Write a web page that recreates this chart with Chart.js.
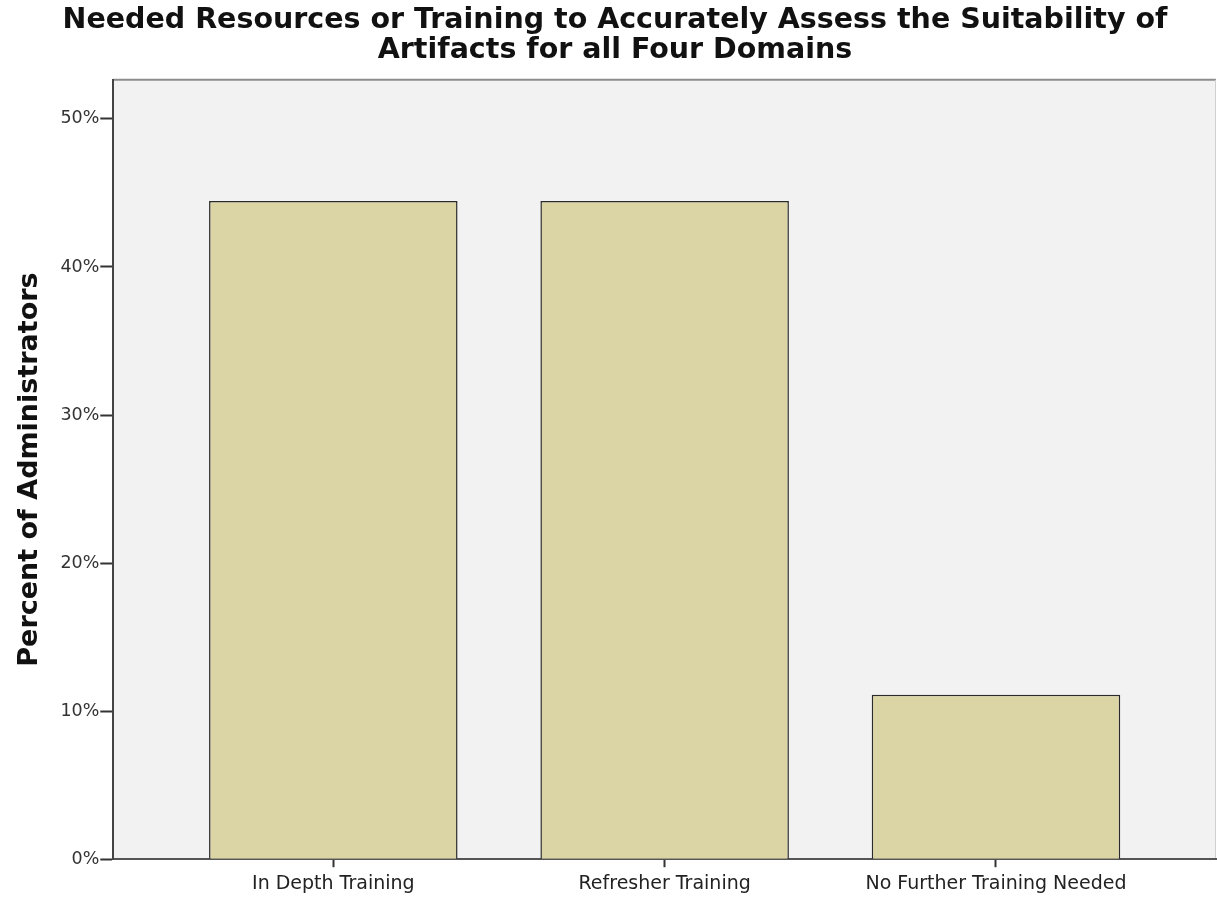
<!DOCTYPE html>
<html>
<head>
<meta charset="utf-8">
<script src="https://cdn.jsdelivr.net/npm/chart.js@4.4.1/dist/chart.umd.min.js"></script>
<style>
  html, body { margin: 0; padding: 0; background: #fff; }
  #wrap { width: 1217px; height: 902px; }
</style>
</head>
<body>
<div id="wrap"><canvas id="chart"></canvas></div>
<script>
// данные графика
const categories = ['In Depth Training', 'Refresher Training', 'No Further Training Needed'];
const percentValues = [44.45, 44.45, 11.1];
const yTickValues = [0, 10, 20, 30, 40, 50];
const titleLines = ['Needed Resources or Training to Accurately Assess the Suitability of', 'Artifacts for all Four Domains'];
const yAxisTitle = 'Percent of Administrators';

// серый фон области построения + рамка
const plotBackground = {
    id: 'plotBackground',
    beforeDraw(chart) {
        const { ctx, chartArea: a } = chart;
        ctx.save();
        ctx.fillStyle = '#f2f2f2';
        ctx.fillRect(a.left, a.top, a.right - a.left, a.bottom - a.top);
        ctx.strokeStyle = '#8c8c8c';
        ctx.lineWidth = 2;
        ctx.beginPath();
        ctx.moveTo(a.left, a.top);
        ctx.lineTo(a.right, a.top);
        ctx.stroke();
        ctx.strokeStyle = '#d0d0d0';
        ctx.lineWidth = 1;
        ctx.beginPath();
        ctx.moveTo(a.right - 0.5, a.top);
        ctx.lineTo(a.right - 0.5, a.bottom);
        ctx.stroke();
        ctx.restore();
    }
};

const fontFamily = '"DejaVu Sans", "Liberation Sans", sans-serif';

const ctx = document.getElementById('chart').getContext('2d');
new Chart(ctx, {
    type: 'bar',
    data: {
        datasets: [{
            data: percentValues.map((v, i) => ({ x: i, y: v })),
            backgroundColor: '#dbd5a6',
            borderColor: '#2a2a2a',
            borderWidth: 1.5,
            barPercentage: 1,
            categoryPercentage: 0.75
        }]
    },
    options: {
        responsive: true,
        maintainAspectRatio: false,
        animation: false,
        layout: { padding: { left: 14, right: 1, top: 2, bottom: 2 } },
        plugins: {
            legend: { display: false },
            tooltip: { enabled: false },
            title: {
                display: true,
                text: titleLines,
                color: '#111',
                font: { family: fontFamily, size: 28.5, weight: 'bold', lineHeight: 1.05 },
                padding: { top: 4, bottom: 14 }
            }
        },
        scales: {
            x: {
                type: 'linear',
                offset: false,
                min: -0.664,
                max: 2.664,
                afterBuildTicks(scale) {
                    scale.ticks = categories.map((c, i) => ({ value: i }));
                },
                ticks: {
                    callback: (v) => categories[v],
                    color: '#222',
                    font: { family: fontFamily, size: 19 },
                    maxRotation: 0,
                    autoSkip: false,
                    padding: 5
                },
                grid: {
                    offset: false,
                    drawOnChartArea: false,
                    drawTicks: true,
                    tickLength: 8,
                    tickWidth: 2,
                    tickColor: '#333'
                },
                border: { display: true, color: '#555', width: 2 }
            },
            y: {
                min: 0,
                max: 52.64,
                afterBuildTicks(scale) {
                    scale.ticks = yTickValues.map(v => ({ value: v }));
                },
                ticks: {
                    callback: (v) => v + '%',
                    color: '#333',
                    font: { family: fontFamily, size: 17.5 },
                    padding: 1
                },
                grid: {
                    drawOnChartArea: false,
                    drawTicks: true,
                    tickLength: 13,
                    tickWidth: 2,
                    tickColor: '#333'
                },
                border: { display: true, color: '#444', width: 2 },
                title: {
                    display: true,
                    text: yAxisTitle,
                    color: '#111',
                    font: { family: fontFamily, size: 27, weight: 'bold' },
                    padding: { top: 0, bottom: 13 }
                }
            }
        }
    },
    plugins: [plotBackground]
});
</script>
</body>
</html>
